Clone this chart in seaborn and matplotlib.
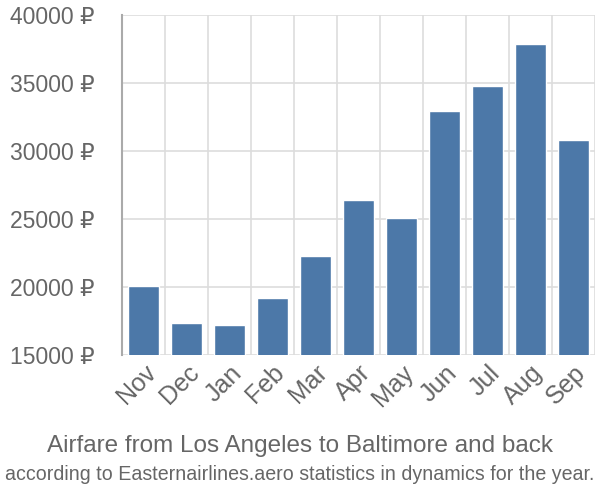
import numpy as np
import pandas as pd
import seaborn as sns
import matplotlib
matplotlib.use('Agg')
import matplotlib.pyplot as plt
from matplotlib.ticker import FixedLocator

# donnees
months = ['Nov', 'Dec', 'Jan', 'Feb', 'Mar', 'Apr', 'May', 'Jun', 'Jul', 'Aug', 'Sep']
prices = [20100, 17350, 17200, 19200, 22250, 26400, 25050, 32950, 34750, 37900, 30800]
yticks = [15000, 20000, 25000, 30000, 35000, 40000]

df = pd.DataFrame({'Month': months, 'Price': prices})

sns.set_style('white')
plt.rcParams['font.family'] = ['Liberation Sans', 'DejaVu Sans']

fig = plt.figure(figsize=(6, 5), dpi=100)
ax = fig.add_axes([0.2033, 0.29, 0.788, 0.68])

sns.barplot(data=df, x='Month', y='Price', color='#4c78a8', saturation=1,
            width=0.72, ax=ax, zorder=3)

ax.set_ylim(15000, 40000)
ax.set_xlim(-0.5, len(months) - 0.5)
ax.set_yticks(yticks)
ax.set_yticklabels([f'{v} ₽' for v in yticks], fontsize=16.5, color='#666666')

# grille verticale entre les barres
ax.xaxis.set_minor_locator(FixedLocator(np.arange(-0.5, len(months), 1)))
ax.grid(which='minor', axis='x', color='#dddddd', linewidth=1.2, zorder=0)
ax.grid(which='major', axis='y', color='#dddddd', linewidth=1.2, zorder=0)
ax.tick_params(axis='x', which='minor', length=17, color='#dddddd', width=1.2)
ax.tick_params(axis='x', which='major', length=0, pad=4)
ax.tick_params(axis='y', length=18, color='#dddddd', width=1.2, pad=2)
ax.set_axisbelow(True)

for lab in ax.get_xticklabels():
    lab.set_rotation(45)
    lab.set_ha('right')
    lab.set_rotation_mode('anchor')
    lab.set_fontsize(18)
    lab.set_color('#666666')

for s in ['top', 'right', 'bottom']:
    ax.spines[s].set_visible(False)
ax.spines['left'].set_color('#aaaaaa')
ax.spines['left'].set_linewidth(1.5)

ax.set_xlabel('')
ax.set_ylabel('')

fig.text(0.5, 0.108, 'Airfare from Los Angeles to Baltimore and back',
         ha='center', va='center', fontsize=17.5, color='#666666')
fig.text(0.5, 0.05, 'according to Easternairlines.aero statistics in dynamics for the year.',
         ha='center', va='center', fontsize=14.1, color='#666666')

fig.savefig('out.png', dpi=100)
